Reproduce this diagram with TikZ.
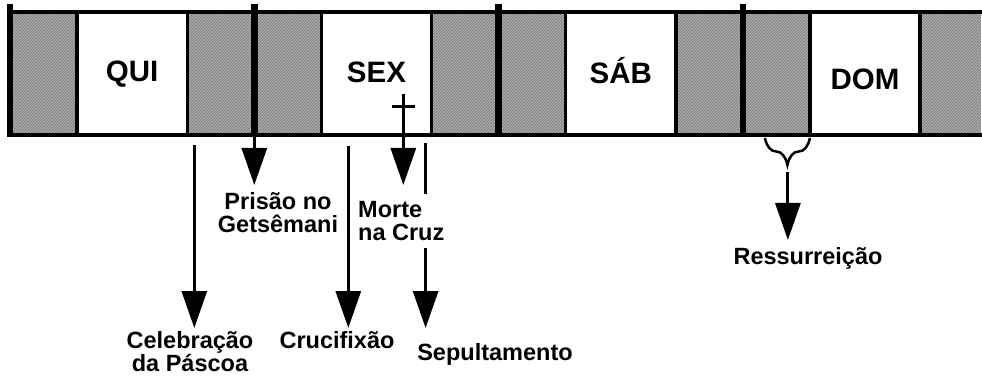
\documentclass[tikz,border=0pt]{standalone}
\usepackage{fontspec}
\setmainfont{Liberation Sans}
\usetikzlibrary{positioning, arrows.meta, patterns, decorations.pathreplacing}

\begin{document}
\begin{tikzpicture}[x=1pt, y=-1pt,
  daycell/.style={minimum width=110.3pt, minimum height=123pt, inner sep=0pt, outer sep=0pt,
                  fill=white, text height=21pt, text depth=0pt,
                  font=\fontsize{29.5}{30}\selectfont\bfseries},
  gapcell/.style={minimum width=67pt, minimum height=123pt, inner sep=0pt, outer sep=0pt,
                  fill=black!47, postaction={pattern=north east lines, pattern color=black!25}},
  border/.style={line width=3.5pt, line cap=rect},
  bar/.style={line width=6.5pt},
  arr/.style={-{Triangle[length=37pt, width=25pt]}, line width=3pt},
  evt/.style={font=\fontsize{23.5}{23.5}\selectfont\bfseries, align=center, inner sep=0pt},
  brc/.style={decorate, decoration={brace, mirror, amplitude=27pt}, line width=2.5pt},
]
\useasboundingbox (0,0) rectangle (982,382);

% === Week strip ===
\node[gapcell] (g1) at (43.5,73.5) {};
\node[daycell, right=0pt of g1] (qui) {\raisebox{2pt}{QUI}};
\node[gapcell, right=0pt of qui] (g2) {};
\node[gapcell, right=0pt of g2] (g3) {};
\node[daycell, right=0pt of g3] (sex) {\raisebox{1pt}{SEX}};
\node[gapcell, right=0pt of sex] (g4) {};
\node[gapcell, right=0pt of g4] (g5) {};
\node[daycell, right=0pt of g5] (sab) {SÁB};
\node[gapcell, right=0pt of sab] (g6) {};
\node[gapcell, right=0pt of g6] (g7) {};
\node[daycell, right=0pt of g7] (dom) {\raisebox{-6pt}{DOM}};
\node[gapcell, right=0pt of dom, minimum width=61pt] (g8) {};

\draw[border] (g1.north west) -- (g8.north east);
\draw[border] (g1.south west) -- (g8.south east);
\foreach \c in {qui,sex,sab,dom}
  \draw[border] (\c.north west) -- (\c.south west) (\c.north east) -- (\c.south east);
\foreach \c in {g1,g3,g5,g7}
  \draw[bar] ([yshift=8pt]\c.north west) -- ([yshift=-2pt]\c.south west);

% === Event labels ===
\node[evt, anchor=north] (celeb) at (190,331) {Celebração\\da Páscoa};
\node[evt, anchor=north] (prisao) at (278,192) {Prisão no\\Getsêmani};
\node[evt, anchor=north] (crucif) at (337,331) {Crucifixão};
\node[evt, anchor=north] (sepult) at (495,343) {Sepultamento};
\node[evt, anchor=north] (ressur) at (808,247) {Ressurreição};

% === Arrows ===
\coordinate (cTop) at ([xshift=7pt, yshift=-10pt]g2.south west);
\coordinate (kTop) at ([xshift=27pt, yshift=-11pt]sex.south west);
\coordinate (sTop) at ([xshift=-6pt, yshift=-8pt]sex.south east);
\coordinate (xTop) at ([xshift=82pt, yshift=41pt]sex.south west);

\draw[arr, shorten >=3pt] (cTop) -- (celeb.north -| cTop);
\draw[arr, shorten >=7pt] (g3.south west) -- (prisao.north -| g3.south west);
\draw[arr, shorten >=3pt] (kTop) -- (crucif.north -| kTop);
\draw[arr, shorten >=15pt] (sTop) -- (sepult.north -| sTop);

% cross of the death on friday
\node[evt, anchor=north west, align=left, fill=white, inner xsep=4pt, inner ysep=7pt]
  (morte) at (354,194) {Morte\\na Cruz};
\draw[line width=3pt] ([xshift=-11pt, yshift=-13pt]xTop) -- ([xshift=12pt, yshift=-13pt]xTop);
\draw[arr, shorten >=9pt] (xTop) -- (morte.north -| xTop);

% === Resurrection brace ===
\draw[brc] ([xshift=22pt, yshift=-3pt]g7.south west) -- ([yshift=-3pt]g7.south east);
\coordinate (rTop) at ([xshift=-22pt, yshift=-37pt]g7.south east);
\draw[arr, shorten >=7pt] (rTop) -- (ressur.north -| rTop);

\end{tikzpicture}
\end{document}
